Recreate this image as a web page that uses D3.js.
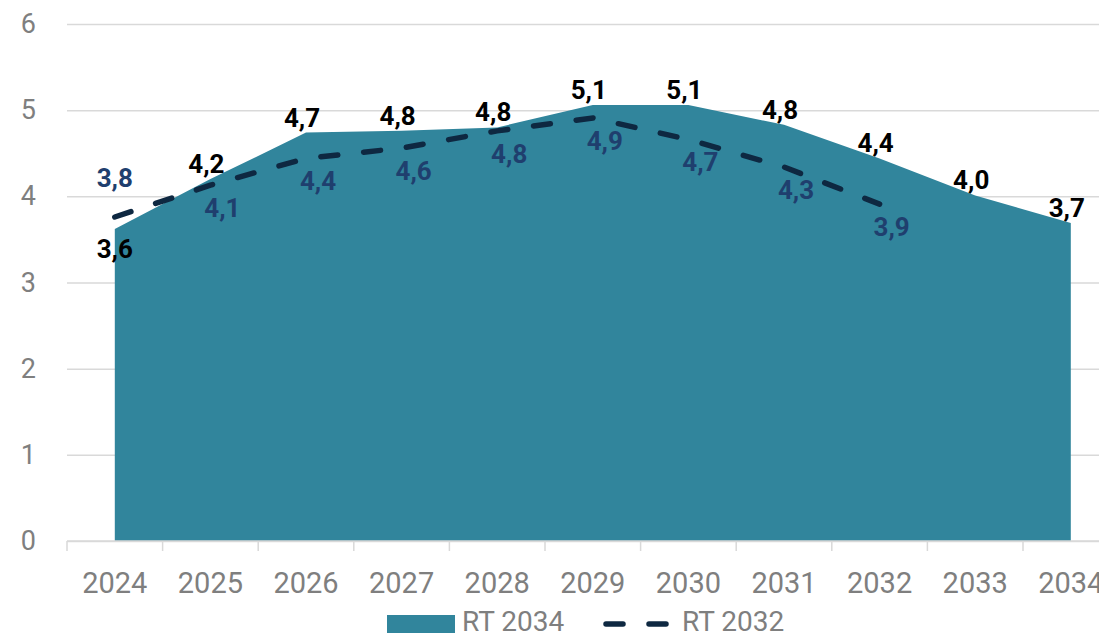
<!DOCTYPE html>
<html lang="en">
<head>
    <meta charset="UTF-8">
    <title>RT 2034 vs RT 2032</title>
    <style>
        html,body{
            margin:0;
            height: 100%;
            overflow: hidden;
            background: #fff;
        }
        text { font-family: Roboto, "Liberation Sans", sans-serif; }
    </style>
</head>
<body>
    <svg id="svg"></svg>
    <script src="https://d3js.org/d3.v7.min.js"></script>
    <script>
        // data
        const years = ['2024','2025','2026','2027','2028','2029','2030','2031','2032','2033','2034'];
        const rt2034 = [3.62, 4.2, 4.74, 4.76, 4.8, 5.06, 5.06, 4.83, 4.44, 4.01, 3.69];
        const rt2032 = [3.76, 4.13, 4.44, 4.56, 4.76, 4.91, 4.66, 4.34, 3.91];
        const yTicks = [0, 1, 2, 3, 4, 5, 6];

        const width = 1099, height = 634;
        const svg = d3.select('#svg').attr('width', width).attr('height', height);

        const left = 67, bandW = 95.6;
        const xScale = d3.scaleBand()
            .domain(years)
            .range([left, left + bandW * years.length]);
        const yScale = d3.scaleLinear()
            .domain([0, 6])
            .range([541, 24]);
        const cx = d => xScale(d) + xScale.bandwidth() / 2;
        const fmt = v => d3.format('.1f')(v).replace('.', ',');

        // gridlines + y labels
        const yAxis = d3.axisLeft(yScale)
            .tickValues(yTicks)
            .tickFormat(d3.format('d'))
            .tickSize(-(width - left))
            .tickPadding(31);
        const gy = svg.append('g').attr('transform', `translate(${left},0)`).call(yAxis);
        gy.select('.domain').remove();
        gy.selectAll('.tick line').attr('stroke', '#d9d9d9').attr('stroke-width', 1.5);
        gy.selectAll('.tick text')
            .attr('fill', '#7f7f7f')
            .style('font-size', '27px');

        // area RT 2034
        const area = d3.area()
            .x((d, i) => cx(years[i]))
            .y0(yScale(0))
            .y1(d => yScale(d));
        svg.append('path')
            .datum(rt2034)
            .attr('d', area)
            .attr('fill', '#31859c');

        // x axis line, boundary ticks, labels
        const xAxis = d3.axisBottom(xScale).tickSize(0).tickPadding(31);
        const gx = svg.append('g').attr('transform', `translate(0,${yScale(0)})`).call(xAxis);
        gx.select('.domain').remove();
        gx.selectAll('.tick text')
            .attr('fill', '#7f7f7f')
            .style('font-size', '29px');
        gx.append('line')
            .attr('x1', left).attr('x2', width)
            .attr('stroke', '#d9d9d9').attr('stroke-width', 1.5);
        gx.selectAll('.bound')
            .data(years.concat(['end']))
            .join('line')
            .attr('class', 'bound')
            .attr('x1', d => d === 'end' ? xScale.range()[1] : xScale(d))
            .attr('x2', d => d === 'end' ? xScale.range()[1] : xScale(d))
            .attr('y1', 0).attr('y2', 10)
            .attr('stroke', '#d9d9d9').attr('stroke-width', 1.5);

        // dashed line RT 2032
        const line = d3.line()
            .x((d, i) => cx(years[i]))
            .y(d => yScale(d));
        svg.append('path')
            .datum(rt2032)
            .attr('d', line)
            .attr('fill', 'none')
            .attr('stroke', '#0e2841')
            .attr('stroke-width', 5.5)
            .attr('stroke-linecap', 'round')
            .attr('stroke-dasharray', '17,26');

        // labels RT 2034 (above, first one below)
        svg.append('g').selectAll('text')
            .data(rt2034)
            .join('text')
            .attr('x', (d, i) => cx(years[i]) + (i === 0 ? 0 : -4))
            .attr('y', (d, i) => yScale(d) + (i === 0 ? 29 : -6))
            .attr('text-anchor', 'middle')
            .attr('fill', '#000')
            .style('font-size', '26px')
            .style('font-weight', 'bold')
            .text(fmt);

        // labels RT 2032 (below, first one above)
        svg.append('g').selectAll('text')
            .data(rt2032)
            .join('text')
            .attr('x', (d, i) => cx(years[i]) + (i === 0 ? 0 : 12))
            .attr('y', (d, i) => yScale(d) + (i === 0 ? -30 : 32))
            .attr('text-anchor', 'middle')
            .attr('fill', '#1f3f6e')
            .style('font-size', '26px')
            .style('font-weight', 'bold')
            .text(fmt);

        // legend
        const lg = svg.append('g');
        lg.append('rect')
            .attr('x', 387).attr('y', 615).attr('width', 68).attr('height', 18)
            .attr('fill', '#31859c');
        lg.append('text')
            .attr('x', 462).attr('y', 631)
            .attr('fill', '#7f7f7f').style('font-size', '28px')
            .text('RT 2034');
        lg.append('line')
            .attr('x1', 606).attr('x2', 668).attr('y1', 624).attr('y2', 624)
            .attr('stroke', '#0e2841').attr('stroke-width', 5.5)
            .attr('stroke-linecap', 'round')
            .attr('stroke-dasharray', '17,26');
        lg.append('text')
            .attr('x', 682).attr('y', 631)
            .attr('fill', '#7f7f7f').style('font-size', '28px')
            .text('RT 2032');
    </script>
</body>
</html>
